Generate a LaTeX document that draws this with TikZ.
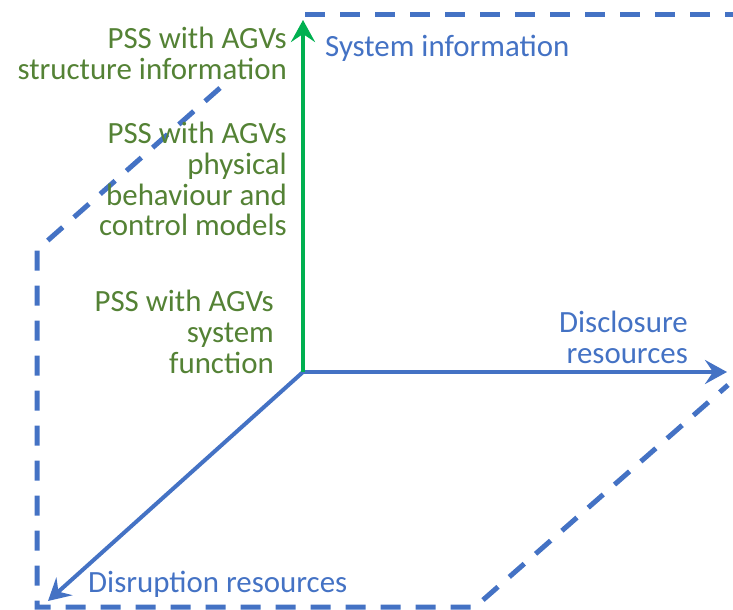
\documentclass[tikz,border=0pt]{standalone}
\usepackage{fontspec}
\setmainfont{Carlito}
\usepackage{tikz}
\usetikzlibrary{arrows.meta}
\definecolor{axisblue}{RGB}{68, 114, 196}
\definecolor{axisgreen}{RGB}{0, 176, 80}
\definecolor{labelgreen}{RGB}{84, 130, 53}

\begin{document}
\begin{tikzpicture}[x=1bp, y=-1bp,
    axis/.style={line width=4bp, -{Stealth[length=22bp, width=24bp, inset=8bp]}},
    frame/.style={draw=axisblue, line width=5bp, dash pattern=on 20bp off 15bp},
    lbl/.style={font=\fontsize{31}{31}\selectfont, inner sep=0pt}]
    \useasboundingbox (0,0) rectangle (733,610);

    % axes
    \coordinate (origin) at (303,372);
    \coordinate (infotip) at (303,20);
    \coordinate (disctip) at (727,372);
    \coordinate (disrtip) at (48,601);
    \draw[axis, axisblue] (origin) -- (disctip);
    \draw[axis, axisblue] (origin) -- (disrtip);
    \draw[axis, axisgreen] (origin) -- (infotip);

    % dashed frame
    \coordinate (topleft) at (305,15);
    \coordinate (topright) at (740,15);
    \coordinate (backtop) at (220,88);
    \coordinate (backbend) at (37,250);
    \coordinate (corner) at (37,607);
    \coordinate (frontbend) at (475,607);
    \coordinate (frontend) at (728,385);
    \draw[frame] (topleft) -- (topright);
    \draw[frame] (backtop) -- (backbend) -- (corner) -- (frontbend) -- (frontend);

    % labels
    \node[lbl, text=labelgreen, align=right, anchor=east] (structure) at (287,53)
        {PSS with AGVs\\structure information};
    \node[lbl, text=labelgreen, align=right, anchor=east] (behaviour) at (287,179)
        {PSS with AGVs\\physical\\behaviour and\\control models};
    \node[lbl, text=labelgreen, align=right, anchor=east] (function) at (274,332)
        {PSS with AGVs\\system\\function};
    \node[lbl, text=axisblue, anchor=west] (sysinfo) at (325,48) {System information};
    \node[lbl, text=axisblue, align=right, anchor=east] (disclosure) at (688,337)
        {Disclosure\\resources};
    \node[lbl, text=axisblue, anchor=west] (disruption) at (88,584) {Disruption resources};
\end{tikzpicture}
\end{document}
